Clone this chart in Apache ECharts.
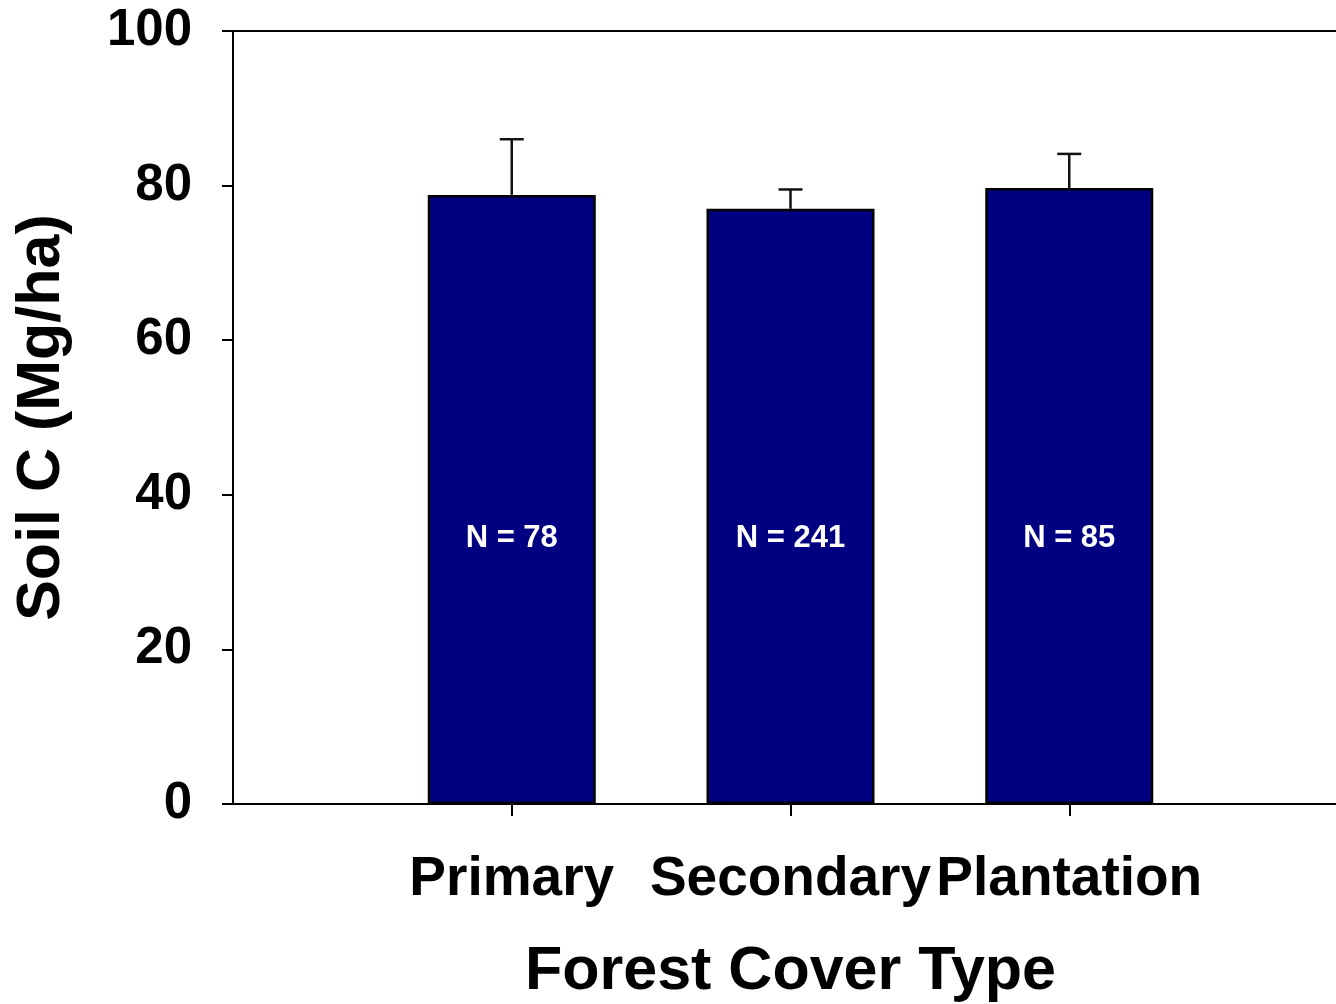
<!DOCTYPE html>
<html>
<head>
<meta charset="utf-8">
<title>Soil C by Forest Cover Type</title>
<script src="https://cdn.jsdelivr.net/npm/echarts@6/dist/echarts.min.js"></script>
<style>
  html, body { margin: 0; padding: 0; background: #ffffff; }
  #chart { width: 1336px; height: 1004px; }
</style>
</head>
<body>
<div id="chart"></div>
<script>
// Forest cover categories and mean soil carbon (Mg/ha)
const categories = ['Primary', 'Secondary', 'Plantation'];
const soilC = [78.8, 77.0, 79.7];
// Upper error (standard error) for each mean
const soilCErr = [7.2, 2.5, 4.4];
// Sample sizes shown inside the bars
const sampleN = [78, 241, 85];
// Y-axis tick values
const yTicks = [0, 20, 40, 60, 80, 100];

const FONT = '"Liberation Sans", Arial, Helvetica, sans-serif';
const LABEL_LEVEL = 34.4; // height (in data units) at which the N labels sit

// The category axis runs from 0 to 4 with the three types at 1, 2, 3
const axisCats = [''].concat(categories, ['']);
const pad = arr => [null].concat(arr, [null]);

const chart = echarts.init(document.getElementById('chart'), null, { renderer: 'canvas' });

const option = {
  animation: false,
  backgroundColor: '#ffffff',
  grid: {
    left: 233, top: 31, right: -12, bottom: 200,
    containLabel: false,
    outerBoundsMode: 'none'
  },
  xAxis: [
    {
      type: 'category',
      data: axisCats,
      boundaryGap: false,
      name: 'Forest Cover Type',
      nameLocation: 'middle',
      nameGap: 138,
      nameTextStyle: { fontFamily: FONT, fontWeight: 'bold', fontSize: 61, color: '#000' },
      axisLine: { show: true, lineStyle: { color: '#000', width: 2 } },
      axisTick: {
        show: true, inside: false, length: 12,
        interval: (idx) => idx >= 1 && idx <= categories.length,
        lineStyle: { color: '#000', width: 2 }
      },
      axisLabel: {
        show: true, margin: 48, interval: 0,
        fontFamily: FONT, fontWeight: 'bold', fontSize: 55, color: '#000'
      },
      splitLine: { show: false }
    },
    {
      type: 'category',
      data: axisCats,
      boundaryGap: false,
      position: 'top',
      axisLine: { show: true, lineStyle: { color: '#000', width: 2 } },
      axisTick: { show: false },
      axisLabel: { show: false },
      splitLine: { show: false }
    }
  ],
  yAxis: {
    type: 'value',
    min: yTicks[0],
    max: yTicks[yTicks.length - 1],
    interval: yTicks[1] - yTicks[0],
    name: 'Soil C (Mg/ha)',
    nameLocation: 'middle',
    nameGap: 160,
    nameRotate: 90,
    nameTextStyle: { fontFamily: FONT, fontWeight: 'bold', fontSize: 61, color: '#000' },
    axisLine: { show: true, onZero: false, lineStyle: { color: '#000', width: 2 } },
    axisTick: { show: true, inside: false, length: 11, lineStyle: { color: '#000', width: 2 } },
    axisLabel: { margin: 41, fontFamily: FONT, fontWeight: 'bold', fontSize: 51, color: '#000' },
    splitLine: { show: false }
  },
  series: [
    {
      type: 'bar',
      xAxisIndex: 0,
      data: pad(soilC),
      barWidth: 168,
      itemStyle: { color: '#000080', borderColor: '#000', borderWidth: 2.5 },
      z: 2
    },
    {
      // Upper error bars with caps
      type: 'custom',
      xAxisIndex: 0,
      data: pad(soilC.map((m, i) => [m, m + soilCErr[i]])).map((d, i) => d ? [i, d[0], d[1]] : [i, null, null]),
      renderItem: (params, api) => {
        const lo = api.value(1), hi = api.value(2);
        if (lo == null || isNaN(lo)) return null;
        const base = api.coord([api.value(0), lo]);
        const top = api.coord([api.value(0), hi]);
        const half = 12;
        const style = { stroke: '#111', lineWidth: 2.5 };
        return {
          type: 'group',
          children: [
            { type: 'line', shape: { x1: base[0], y1: base[1], x2: top[0], y2: top[1] }, style },
            { type: 'line', shape: { x1: top[0] - half, y1: top[1], x2: top[0] + half, y2: top[1] }, style }
          ]
        };
      },
      z: 3
    },
    {
      // Sample-size labels inside the bars
      type: 'custom',
      xAxisIndex: 0,
      data: pad(sampleN).map((n, i) => [i, n]),
      renderItem: (params, api) => {
        const n = api.value(1);
        if (n == null || isNaN(n)) return null;
        const p = api.coord([api.value(0), LABEL_LEVEL]);
        return {
          type: 'text',
          x: p[0], y: p[1],
          style: {
            text: 'N = ' + n,
            fill: '#ffffff',
            font: 'bold 31px ' + FONT,
            align: 'center',
            verticalAlign: 'middle'
          }
        };
      },
      z: 4
    }
  ]
};

chart.setOption(option);
</script>
</body>
</html>
